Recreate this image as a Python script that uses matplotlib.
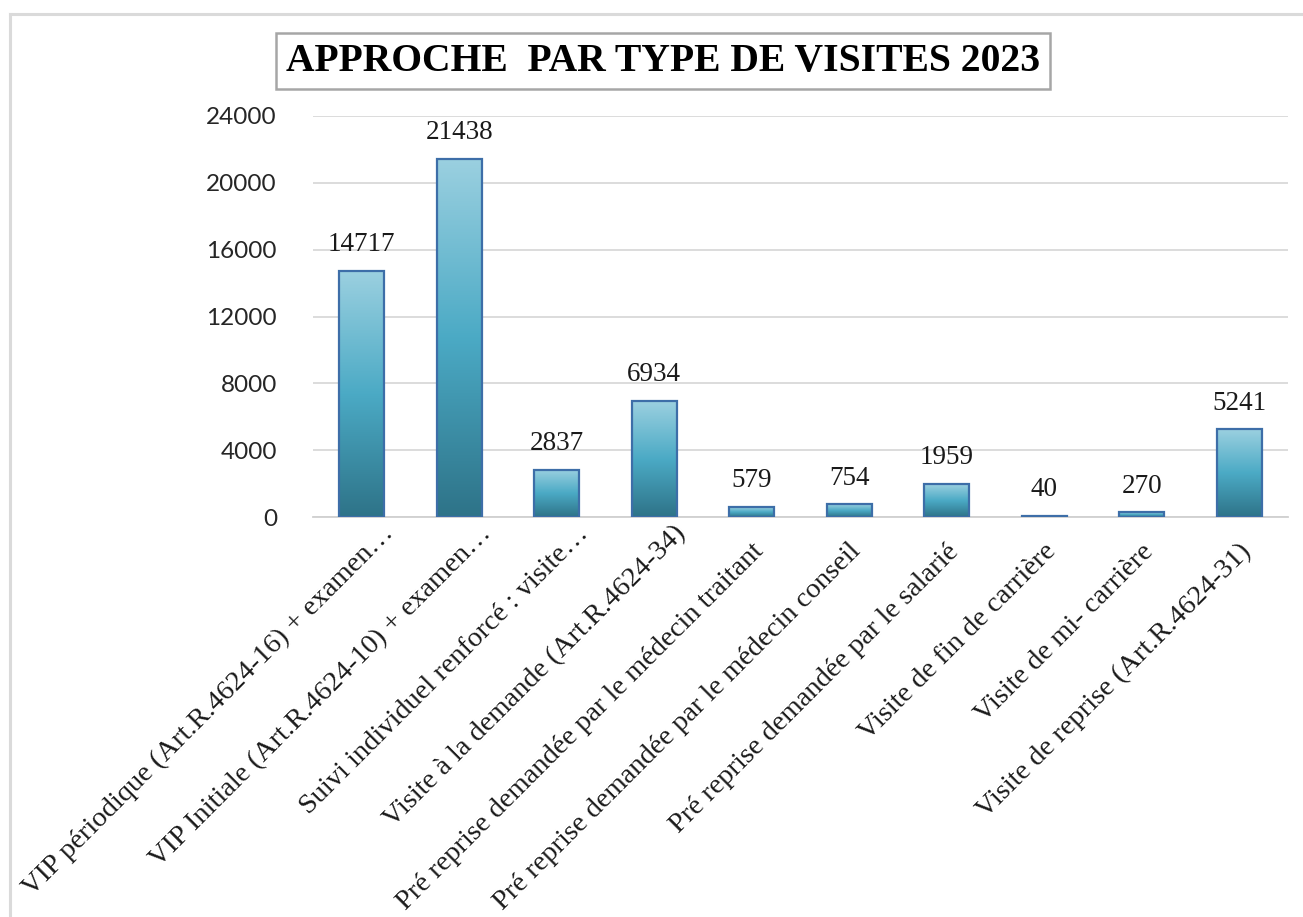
import numpy as np
import matplotlib
matplotlib.use("Agg")
import matplotlib.pyplot as plt
from matplotlib.colors import LinearSegmentedColormap
from matplotlib.lines import Line2D
import matplotlib.transforms as mtransforms

categories = [
    "VIP périodique (Art.R.4624-16) + examen…",
    "VIP Initiale (Art.R.4624-10) + examen…",
    "Suivi individuel renforcé : visite…",
    "Visite à la demande (Art.R.4624-34)",
    "Pré reprise demandée par le médecin traitant",
    "Pré reprise demandée par le médecin conseil",
    "Pré reprise demandée par le salarié",
    "Visite de fin de carrière",
    "Visite de mi- carrière",
    "Visite de reprise (Art.R.4624-31)",
]
values = [14717, 21438, 2837, 6934, 579, 754, 1959, 40, 270, 5241]
yticks = [0, 4000, 8000, 12000, 16000, 20000, 24000]
title = "APPROCHE  PAR TYPE DE VISITES 2023"

W, H = 1303, 917
fig = plt.figure(figsize=(W / 100, H / 100), dpi=100)
fig.patch.set_facecolor("white")

ax = fig.add_axes([313 / W, 1 - 517 / H, (1288 - 313) / W, (517 - 116) / H])

cmap = LinearSegmentedColormap.from_list(
    "bar", ["#2E7388", "#4BAAC5", "#9BD0E0"])
grad = np.linspace(0, 1, 256).reshape(-1, 1)

x = np.arange(len(values))
bars = ax.bar(x, values, width=0.46, color="none", edgecolor="#3D6EA8",
              linewidth=1.6, zorder=3)
for b in bars:
    x0 = b.get_x()
    x1 = x0 + b.get_width()
    h = b.get_height()
    im = ax.imshow(grad, cmap=cmap, origin="lower", aspect="auto",
                   extent=(x0, x1, 0, h), zorder=2, interpolation="bilinear")
    im.set_clip_path(b)
ax.set_xlim(-0.5, len(values) - 0.5)
ax.set_ylim(0, 24000)

for xi, v in zip(x, values):
    ax.annotate(f"{v}", (xi, v), xytext=(0, 10), textcoords="offset points",
                ha="center", va="bottom", fontsize=19.5, family="Liberation Serif",
                color="#1a1a1a")

ax.set_yticks(yticks)
ax.set_yticklabels([str(t) for t in yticks], fontsize=17.5, family="Lato",
                   color="#262626")
ax.tick_params(axis="y", length=0, pad=26)
ax.tick_params(axis="x", length=0)
ax.set_xticks(x)
ax.set_xticklabels(categories, rotation=45, ha="right", va="center",
                   rotation_mode="anchor", fontsize=20.5,
                   family="Liberation Serif", color="#1a1a1a")
for i, lbl in enumerate(ax.get_xticklabels()):
    if i < 4:
        dx, dy = 28, -8
    else:
        dx, dy = 8, -26
    off = mtransforms.ScaledTranslation(dx / 100, dy / 100, fig.dpi_scale_trans)
    lbl.set_transform(lbl.get_transform() + off)

ax.grid(axis="y", color="#D9D9D9", linewidth=1.3, zorder=0)
ax.set_axisbelow(True)
for s in ["top", "right", "left"]:
    ax.spines[s].set_visible(False)
ax.spines["bottom"].set_color("#D0D0D0")
ax.spines["bottom"].set_linewidth(1.3)

fig.text(663 / W, 1 - 61 / H, title, ha="center", va="center",
         fontsize=28.5, fontweight="bold", family="Liberation Serif",
         color="black",
         bbox=dict(boxstyle="square,pad=0.25", facecolor="white",
                   edgecolor="#A6A6A6", linewidth=1.8))

# outer border (top and left)
fig.add_artist(Line2D([10 / W, 1.0], [1 - 14 / H, 1 - 14 / H],
                      transform=fig.transFigure, color="#DADADA", linewidth=2.2))
fig.add_artist(Line2D([10 / W, 10 / W], [0, 1 - 14 / H],
                      transform=fig.transFigure, color="#DADADA", linewidth=2.2))

fig.savefig("out.png", dpi=100, facecolor="white")
